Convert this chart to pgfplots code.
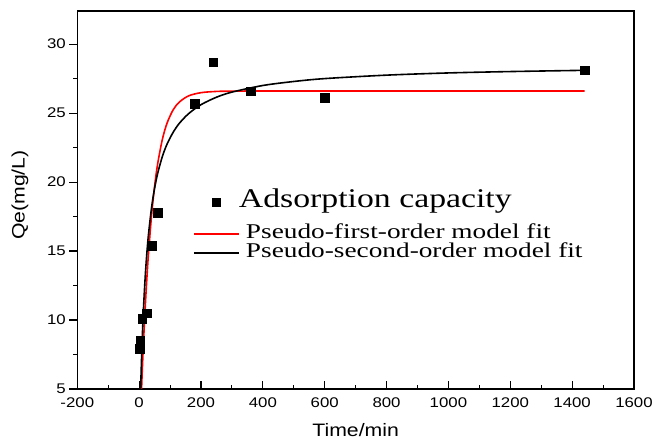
\documentclass[border=0pt]{standalone}
\usepackage{pgfplots}
\pgfplotsset{compat=1.18}
\usepackage{fontspec}
\setmainfont{Liberation Sans}
\newfontfamily\tickfont{Liberation Sans}[FakeStretch=1.2]
\newfontfamily\labfont{Liberation Sans}[FakeStretch=1.18]
\newfontfamily\legfont{Liberation Serif}[FakeStretch=1.25]
\newfontfamily\legfontb{Liberation Serif}[FakeStretch=1.3]
\definecolor{fitred}{RGB}{255,0,0}

\pgfplotsset{
  legline/.style={legend image code/.code={%
    \pgfpathrectangle{\pgfpoint{0pt}{-1pt}}{\pgfpoint{45pt}{2pt}}%
    \pgfusepath{use as bounding box}%
    \draw[##1] (0pt,0pt) -- (45pt,0pt);}},
  legmark/.style={legend image code/.code={%
    \pgfpathrectangle{\pgfpoint{0pt}{-1pt}}{\pgfpoint{45pt}{2pt}}%
    \pgfusepath{use as bounding box}%
    \draw[##1] plot coordinates {(22.5pt,2.3pt)};}},
}

% measured adsorption capacity
\pgfplotstableread{
t    q
2    7.9
4    8.5
10   10.1
25   10.5
40   15.4
60   17.8
180  25.7
240  28.7
360  26.6
600  26.1
1440 28.1
}\qedata

\begin{document}
\begin{tikzpicture}
\begin{axis}[
  name=ax,
  scale only axis,
  width=556.7pt, height=378pt,
  xmin=-200, xmax=1600, ymin=5, ymax=32.4,
  xtick={-200,0,...,1600}, ytick={5,10,...,30},
  minor x tick num=1, minor y tick num=1,
  xtick pos=bottom, ytick pos=left,
  xtick align=inside, ytick align=outside,
  major tick length=8pt, minor tick length=4pt,
  axis line style={line width=1.3pt},
  every tick/.style={black, line width=1.1pt},
  tick label style={font=\tickfont\fontsize{14}{16}\selectfont},
  /pgf/number format/assume math mode=true,
  /pgf/number format/1000 sep={},
  xticklabel style={yshift=-5pt},
  xlabel={Time/min}, ylabel={Qe(mg/L)},
  label style={font=\labfont\fontsize{18}{20}\selectfont},
  xlabel style={at={(axis description cs:0.5,-0.1085)}, anchor=center},
  ylabel style={at={(axis description cs:-0.103,0.513)}, anchor=center},
  legend style={draw=none, fill=none,
    at={(axis description cs:0.2096,0.5415)}, anchor=north west,
    inner sep=0pt, outer sep=0pt, row sep=0pt, column sep=0pt,
    nodes={inner sep=0pt, outer sep=0pt}},
  legend cell align=left,
]
\addlegendimage{only marks, mark=square*, mark size=3.8pt, black, legmark}
\addlegendentry[font=\legfont\fontsize{27}{27}\selectfont, text height=23pt, text depth=17pt, xshift=-7pt]{Adsorption capacity}

% pseudo-first-order fit, qe = 26.6, k1 = 0.027
\addplot[fitred, line width=1.6pt, smooth, legline]
  coordinates {
  (7.7,4.99) (10,6.29) (12,7.36) (15,8.86) (20,11.10) (25,13.05)
  (30,14.77) (40,17.57) (50,19.71) (60,21.34) (75,23.09) (90,24.26)
  (110,25.24) (130,25.80) (160,26.25) (200,26.48) (250,26.57)
  (300,26.59) (400,26.60) (800,26.60) (1440,26.60)
  };
\addlegendentry[font=\legfontb\fontsize{21}{21}\selectfont, text height=14pt, text depth=5pt]{Pseudo-first-order model fit}

% pseudo-second-order fit, qe = 28.55
\addplot[black, line width=1.6pt, smooth, legline]
  coordinates {
  (4.88,5.00) (6,5.91) (8,7.37) (10,8.65) (12,9.79) (15,11.27)
  (20,13.28) (25,14.87) (30,16.16) (40,18.13) (50,19.56) (60,20.64)
  (75,21.85) (90,22.74) (110,23.61) (130,24.26) (160,24.96)
  (200,25.61) (250,26.15) (300,26.52) (400,27.00) (500,27.29)
  (600,27.50) (800,27.75) (1000,27.91) (1200,28.01) (1440,28.10)
  };
\addlegendentry[font=\legfontb\fontsize{21}{21}\selectfont, text height=14pt, text depth=5pt]{Pseudo-second-order model fit}

\addplot[only marks, mark=square*, mark size=4.3pt, black, forget plot]
  table[x=t, y=q] {\qedata};
\end{axis}
\pgfresetboundingbox
\path ([shift={(-77.3pt,-52pt)}]ax.south west) rectangle ([shift={(20pt,11pt)}]ax.north east);
\end{tikzpicture}
\end{document}
